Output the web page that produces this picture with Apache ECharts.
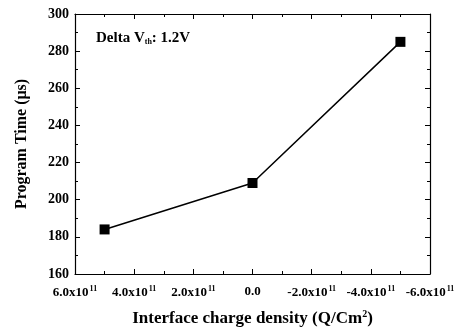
<!DOCTYPE html>
<html>
<head>
<meta charset="utf-8">
<script src="https://cdn.jsdelivr.net/npm/echarts@6/dist/echarts.min.js"></script>
<style>
  html, body { margin: 0; padding: 0; background: #fff; }
  #chart { width: 462px; height: 332px; }
</style>
</head>
<body>
<div id="chart"></div>
<script>
// interface charge density (Q/cm^2) and program time (us)
var chargeDensity = [5e11, 0, -5e11];
var programTime = [184, 209, 285];
var xTicks = { min: -6e11, max: 6e11, step: 2e11 };
var yTicks = { min: 160, max: 300, step: 20 };

var serif = '"Liberation Serif", "Times New Roman", serif';
var chart = echarts.init(document.getElementById('chart'));

var points = chargeDensity.map(function (x, i) { return [x, programTime[i]]; });

function xLabel(v) {
    if (v === 0) return '0.0';
    return (v / 1e11).toFixed(1) + 'x10{sup|11}';
}

var tickStyle = { show: true, inside: true, length: 5, lineStyle: { color: '#000', width: 1 } };
var minorStyle = { show: true, splitNumber: 2, length: 3, lineStyle: { color: '#000', width: 1 } };
var lineStyle = { show: true, onZero: false, lineStyle: { color: '#000', width: 1.2 } };

var option = {
    backgroundColor: '#fff',
    animation: false,
    title: {
        text: 'Delta V{sub|th}: 1.2V',
        left: 91, top: 26,
        textStyle: {
            fontFamily: serif, fontWeight: 'bold', fontSize: 15, color: '#000',
            rich: { sub: { fontFamily: serif, fontWeight: 'bold', fontSize: 8, verticalAlign: 'bottom', padding: [7, 0, 0, 0], color: '#000' } }
        }
    },
    grid: { left: 75, right: 32, top: 14, bottom: 53 },
    xAxis: [{
        type: 'value', inverse: true,
        min: xTicks.min, max: xTicks.max, interval: xTicks.step,
        axisLine: lineStyle, axisTick: tickStyle, minorTick: minorStyle,
        splitLine: { show: false },
        axisLabel: {
            margin: 11, formatter: xLabel,
            fontFamily: serif, fontWeight: 'bold', fontSize: 13, color: '#000',
            rich: { sup: { fontFamily: serif, fontWeight: 'bold', fontSize: 8, verticalAlign: 'top', padding: [0, 0, 7, 1], color: '#000' } }
        },
        name: 'Interface charge density (Q/Cm{sup|2})',
        nameLocation: 'middle', nameGap: 35,
        nameTextStyle: {
            fontFamily: serif, fontWeight: 'bold', fontSize: 17, color: '#000',
            rich: { sup: { fontFamily: serif, fontWeight: 'bold', fontSize: 10, verticalAlign: 'top', padding: [0, 0, 9, 0], color: '#000' } }
        }
    }, {
        type: 'value', position: 'top', inverse: true,
        min: xTicks.min, max: xTicks.max, interval: xTicks.step,
        axisLine: lineStyle, axisTick: tickStyle, minorTick: minorStyle,
        splitLine: { show: false }, axisLabel: { show: false }
    }],
    yAxis: [{
        type: 'value',
        min: yTicks.min, max: yTicks.max, interval: yTicks.step,
        axisLine: lineStyle, axisTick: tickStyle, minorTick: minorStyle,
        splitLine: { show: false },
        axisLabel: { margin: 6, fontFamily: serif, fontWeight: 'bold', fontSize: 14, color: '#000' },
        name: 'Program Time (\u03bcs)',
        nameLocation: 'middle', nameGap: 45,
        nameTextStyle: { fontFamily: serif, fontWeight: 'bold', fontSize: 16, color: '#000' }
    }, {
        type: 'value', position: 'right',
        min: yTicks.min, max: yTicks.max, interval: yTicks.step,
        axisLine: lineStyle, axisTick: tickStyle, minorTick: minorStyle,
        splitLine: { show: false }, axisLabel: { show: false }
    }],
    series: [{
        type: 'line',
        data: points,
        symbol: 'rect', symbolSize: 10,
        itemStyle: { color: '#000' },
        lineStyle: { color: '#000', width: 1.5 }
    }]
};
chart.setOption(option);
</script>
</body>
</html>
